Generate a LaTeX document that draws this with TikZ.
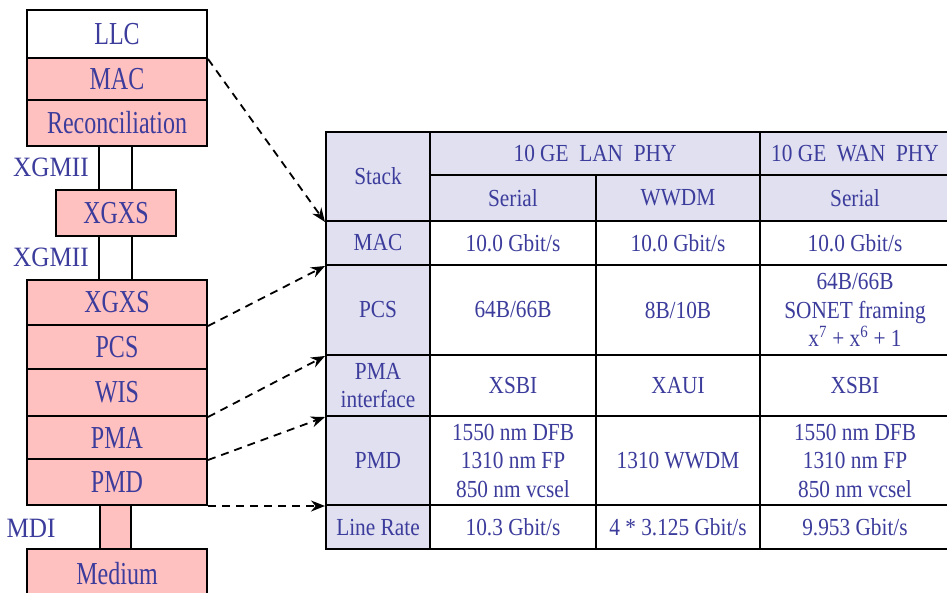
\documentclass[tikz,border=0pt]{standalone}
\usepackage{fontspec}
\setmainfont[FakeStretch=0.87]{Liberation Serif}
\newfontfamily\stackfont[FakeStretch=0.75]{Liberation Serif}
\newfontfamily\lblfont[FakeStretch=0.9]{Liberation Serif}
\usetikzlibrary{arrows.meta}
\definecolor{txt}{HTML}{3C3C9C}
\definecolor{pinkf}{HTML}{FFC0C0}
\definecolor{lav}{HTML}{E0E0F0}
\begin{document}
\begin{tikzpicture}[x=1pt,y=-1pt,
  layer/.style={draw=black, line width=2pt, fill=pinkf, text=txt, font=\stackfont\fontsize{32}{36}\selectfont, minimum width=180pt, inner sep=0pt},
  lbl/.style={text=txt, font=\lblfont\fontsize{28}{32}\selectfont, inner sep=0pt},
  cell/.style={draw=black, line width=2pt, fill=white, text=txt, font=\fontsize{24.5}{28.5}\selectfont, inner sep=0pt, align=center},
  hcell/.style={cell, fill=lav},
  link/.style={line width=2pt, draw=black},
  dasharrow/.style={line width=1.8pt, dash pattern=on 8pt off 6pt, -{Stealth[length=14pt,width=11pt]}}
]
\useasboundingbox (0,0) rectangle (947,592);
\clip (0,0) rectangle (947,592);
% ---- left stack ----
\node[layer, fill=white, minimum height=48pt] (llc) at (117,34) {LLC};
\node[layer, minimum height=42pt] (mac) at (117,79) {MAC};
\node[layer, minimum height=46pt] (rec) at (117,123) {Reconciliation};
\node[layer, minimum width=120pt, minimum height=46pt] (xgxsa) at (116,213) {XGXS};
\node[layer, minimum height=45pt] (xgxsb) at (117,302.5) {XGXS};
\node[layer, minimum height=44pt] (pcs) at (117,347) {PCS};
\node[layer, minimum height=47pt] (wis) at (117,392.5) {WIS};
\node[layer, minimum height=43pt] (pma) at (117,437.5) {PMA};
\node[layer, minimum height=46pt] (pmd) at (117,482) {PMD};
\node[layer, minimum width=31pt, minimum height=44pt] (mdi) at (115.5,527) {};
\node[layer, minimum height=50pt] (med) at (117,574) {Medium};
\draw[link] (rec.south -| mdi.west) -- (xgxsa.north -| mdi.west);
\draw[link] (rec.south -| mdi.east) -- (xgxsa.north -| mdi.east);
\draw[link] (xgxsa.south -| mdi.west) -- (xgxsb.north -| mdi.west);
\draw[link] (xgxsa.south -| mdi.east) -- (xgxsb.north -| mdi.east);
\node[lbl] (xg1) at (51,167) {XGMII};
\node[lbl] (xg2) at (51,257) {XGMII};
\node[lbl] (mdil) at (31,528) {MDI};
% ---- table ----
\node[hcell, minimum width=104pt, minimum height=89pt] (stack) at (378,176.5) {Stack};
\node[hcell, minimum width=330pt, minimum height=43pt] (lan) at (595,153.5) {10 GE\ \ LAN\ \ PHY};
\node[hcell, minimum width=190pt, minimum height=43pt] (wan) at (855,153.5) {10 GE\ \ WAN\ \ PHY};
\node[hcell, minimum width=166pt, minimum height=46pt] (h1) at (513,198) {Serial};
\node[hcell, minimum width=164pt, minimum height=46pt] (h2) at (678,198) {WWDM};
\node[hcell, minimum width=190pt, minimum height=46pt] (h3) at (855,198) {Serial};
% MAC row
\node[hcell, minimum width=104pt, minimum height=44pt] (rmac) at (378,243) {MAC};
\node[cell, minimum width=166pt, minimum height=44pt] (mac1) at (513,243) {10.0 Gbit/s};
\node[cell, minimum width=164pt, minimum height=44pt] (mac2) at (678,243) {10.0 Gbit/s};
\node[cell, minimum width=190pt, minimum height=44pt] (mac3) at (855,243) {10.0 Gbit/s};
% PCS row
\node[hcell, minimum width=104pt, minimum height=90pt] (rpcs) at (378,310) {PCS};
\node[cell, minimum width=166pt, minimum height=90pt] (pcs1) at (513,310) {64B/66B};
\node[cell, minimum width=164pt, minimum height=90pt] (pcs2) at (678,310) {8B/10B};
\node[cell, minimum width=190pt, minimum height=90pt] (pcs3) at (855,310) {64B/66B\\SONET framing\\x\textsuperscript{7} + x\textsuperscript{6} + 1};
% PMA row
\node[hcell, minimum width=104pt, minimum height=61pt] (rpma) at (378,385.5) {PMA\\interface};
\node[cell, minimum width=166pt, minimum height=61pt] (pma1) at (513,385.5) {XSBI};
\node[cell, minimum width=164pt, minimum height=61pt] (pma2) at (678,385.5) {XAUI};
\node[cell, minimum width=190pt, minimum height=61pt] (pma3) at (855,385.5) {XSBI};
% PMD row
\node[hcell, minimum width=104pt, minimum height=89pt] (rpmd) at (378,460.5) {PMD};
\node[cell, minimum width=166pt, minimum height=89pt] (pmd1) at (513,460.5) {1550 nm DFB\\1310 nm FP\\850 nm vcsel};
\node[cell, minimum width=164pt, minimum height=89pt] (pmd2) at (678,460.5) {1310 WWDM};
\node[cell, minimum width=190pt, minimum height=89pt] (pmd3) at (855,460.5) {1550 nm DFB\\1310 nm FP\\850 nm vcsel};
% Line rate row
\node[hcell, minimum width=104pt, minimum height=44pt] (rlr) at (378,527) {Line Rate};
\node[cell, minimum width=166pt, minimum height=44pt] (lr1) at (513,527) {10.3 Gbit/s};
\node[cell, minimum width=164pt, minimum height=44pt] (lr2) at (678,527) {4 * 3.125 Gbit/s};
\node[cell, minimum width=190pt, minimum height=44pt] (lr3) at (855,527) {9.953 Gbit/s};
% ---- arrows ----
\draw[dasharrow] (llc.south east) -- (stack.south west);
\draw[dasharrow] (xgxsb.south east) -- (rmac.south west);
\draw[dasharrow] (wis.south east) -- (rpcs.south west);
\draw[dasharrow] (pma.south east) -- (rpma.south west);
\draw[dasharrow] (pmd.south east) -- (rpmd.south west);
\end{tikzpicture}
\end{document}
